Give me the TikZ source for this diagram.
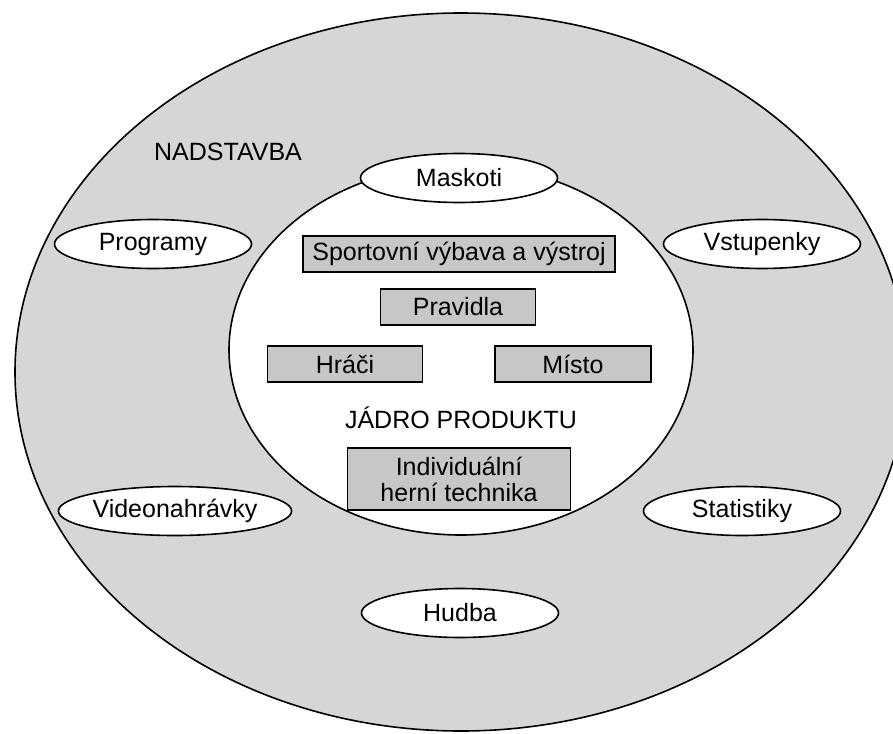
\documentclass[tikz,border=0pt]{standalone}
\usepackage{fontspec}
\setmainfont{Liberation Sans}
\usetikzlibrary{shapes.geometric}
\definecolor{ringgray}{gray}{0.84}
\definecolor{boxgray}{gray}{0.78}
\begin{document}
\begin{tikzpicture}[x=1pt, y=-1pt, line width=1.6pt,
    every node/.append style={font=\fontsize{25}{26}\selectfont},
    extra/.style={ellipse, draw, fill=white, inner sep=0pt, minimum width=197pt, minimum height=49pt},
    core/.style={rectangle, draw, fill=boxgray, line width=1.3pt, inner sep=0pt, minimum height=36pt}]
  \useasboundingbox (0,0) rectangle (893,733);
  \draw[fill=ringgray] (461,372) ellipse [x radius=446, y radius=359];
  \draw[fill=white] (461,350) ellipse [x radius=232, y radius=185];
  \node (nadstavba) at (228,152) {NADSTAVBA};
  \node[extra] (maskoti) at (459,178) {Maskoti};
  \node[extra] (programy) at (153,244) {Programy};
  \node[extra] (vstupenky) at (762,244) {Vstupenky};
  \node[extra] (video) at (175,511) {Videonahrávky};
  \node[extra] (statistiky) at (742,511) {Statistiky};
  \node[extra] (hudba) at (460,613) {Hudba};
  \node[core, minimum width=312pt] (vybava) at (459,254) {Sportovní výbava a výstroj};
  \node[core, minimum width=155pt] (pravidla) at (458,307) {Pravidla};
  \node[core, minimum width=155pt] (hraci) at (345,364) {Hráči};
  \node[core, minimum width=156pt] (misto) at (573,364) {Místo};
  \node (jadro) at (461,418) {JÁDRO PRODUKTU};
  \node[core, minimum width=223pt, minimum height=62pt, align=center] (technika) at (459,479) {Individuální\\herní technika};
\end{tikzpicture}
\end{document}
